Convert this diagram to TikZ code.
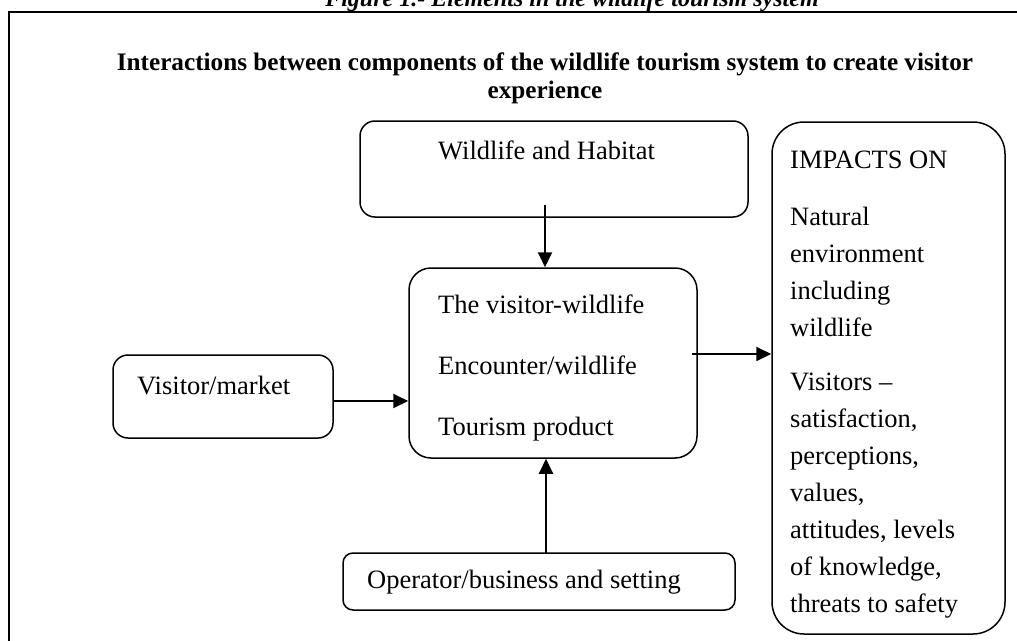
\documentclass[tikz,border=0pt]{standalone}
\usepackage{fontspec}
\setmainfont{Liberation Serif}
\usetikzlibrary{arrows.meta,calc}
\tikzset{
  box/.style={draw, line width=1.5pt, inner sep=0pt},
  txt/.style={anchor=base west, inner sep=0pt, font=\fontsize{26.5}{30}\selectfont},
  ttl/.style={anchor=base, inner sep=0pt, font=\fontsize{25.2}{29}\selectfont\bfseries},
  arr/.style={line width=2pt, -{Triangle[length=15pt,width=14pt]}},
  frame/.style={line width=2.5pt}
}
\begin{document}
\begin{tikzpicture}[x=1pt,y=-1pt]
\useasboundingbox (0,0) rectangle (1017,640);
% frame
\coordinate (fb) at (9,660);
\coordinate (ftl) at (9,12);
\coordinate (ftr) at (1030,12);
\draw[frame] (fb) -- (ftl) -- (ftr);
% caption (cut off at the top edge, as in the reference)
\node[anchor=base, inner sep=0pt, font=\fontsize{24}{28}\selectfont\bfseries\itshape] (cap) at (572,6) {Figure 1.- Elements in the wildlife tourism system};
% title
\node[ttl] (t1) at (545,70) {Interactions between components of the wildlife tourism system to create visitor};
\node[ttl] (t2) at (545,98) {experience};
% boxes
\node[box, rounded corners=15pt, minimum width=388pt, minimum height=96pt] (wild) at (554,169) {};
\node[box, rounded corners=22pt, minimum width=288pt, minimum height=190pt] (cbox) at (553,363) {};
\node[box, rounded corners=15pt, minimum width=220pt, minimum height=83pt] (vis) at (223,396.5) {};
\node[box, rounded corners=10pt, minimum width=392pt, minimum height=57pt] (oper) at (539,581.5) {};
\node[box, rounded corners=32pt, minimum width=233pt, minimum height=512pt] (imp) at (888.5,378) {};
% texts
\node[txt] (wt) at (438,159) {Wildlife and Habitat};
\node[txt] (c1) at (438,313) {The visitor-wildlife};
\node[txt] (c2) at (438,374) {Encounter/wildlife};
\node[txt] (c3) at (438,435) {Tourism product};
\node[txt] (vt) at (137,394) {Visitor/market};
\node[txt] (ot) at (367,588) {Operator/business and setting};
\node[txt] (i0) at (790,168) {IMPACTS ON};
\node[txt] (i1) at (790,225) {Natural};
\node[txt] (i2) at (790,262) {environment};
\node[txt] (i3) at (790,299) {including};
\node[txt] (i4) at (790,336) {wildlife};
\node[txt] (i5) at (790,390) {Visitors –};
\node[txt] (i6) at (790,427) {satisfaction,};
\node[txt] (i7) at (790,464) {perceptions,};
\node[txt] (i8) at (790,501) {values,};
\node[txt] (i9) at (790,538) {attitudes, levels};
\node[txt] (i10) at (790,575) {of knowledge,};
\node[txt] (i11) at (790,612) {threats to safety};
% arrows
\coordinate (a1) at (545,205);
\draw[arr] (a1) -- (a1 |- cbox.north);
\coordinate (a2) at (333,401);
\draw[arr] (a2) -- (a2 -| cbox.west);
\coordinate (a3) at (546,553);
\draw[arr] (a3) -- (a3 |- cbox.south);
\coordinate (a4) at (692,354);
\draw[arr] (a4) -- (a4 -| imp.west);
\end{tikzpicture}
\end{document}
